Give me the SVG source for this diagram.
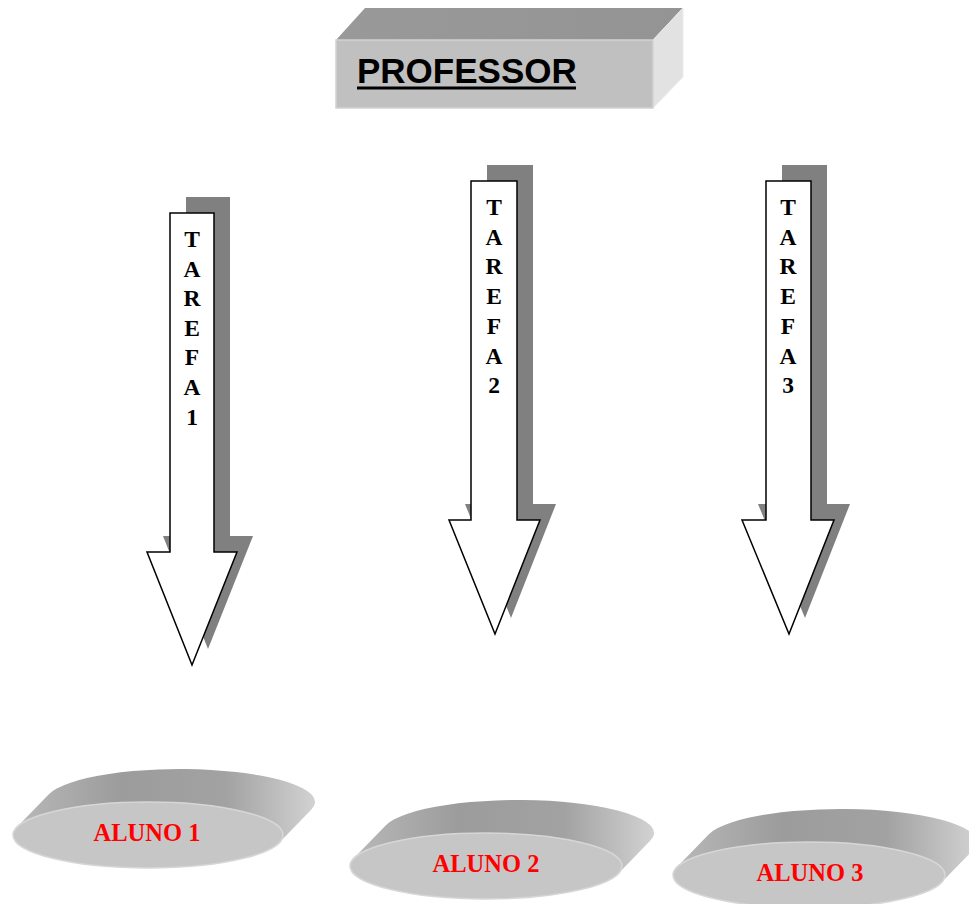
<svg xmlns="http://www.w3.org/2000/svg" width="969" height="904" viewBox="0 0 969 904">
  <style>
    .arrow { fill: #ffffff; stroke: #000000; stroke-width: 1.5; stroke-linejoin: miter; }
    .shadow { fill: #808080; stroke: none; }
    .vlabel { font-family: "Liberation Serif", "Times New Roman", serif; font-weight: bold; font-size: 23.5px; fill: #000000; text-anchor: middle; }
    .aluno { font-family: "Liberation Serif", "Times New Roman", serif; font-weight: bold; font-size: 24.5px; fill: #ff0000; text-anchor: middle; }
    .prof { font-family: "Liberation Sans", Arial, sans-serif; font-weight: bold; font-size: 35px; fill: #000000; }
    .disc-top { fill: url(#discSide); stroke: none; }
    .disc-face { fill: #c6c6c6; stroke: #d6d6d6; stroke-width: 1.5; }
  </style>
  <defs>
    <linearGradient id="discSide" x1="0" y1="0" x2="1" y2="0">
      <stop offset="0" stop-color="#b8b8b8"/>
      <stop offset="0.35" stop-color="#9c9c9c"/>
      <stop offset="0.7" stop-color="#a2a2a2"/>
      <stop offset="1" stop-color="#d2d2d2"/>
    </linearGradient>
    <linearGradient id="boxTop" x1="0" y1="0" x2="1" y2="0">
      <stop offset="0" stop-color="#999999"/>
      <stop offset="1" stop-color="#949494"/>
    </linearGradient>
  </defs>

  <!-- Professor block -->
  <g id="professor">
    <polygon points="336,40 365,8 683,8 653,40" fill="url(#boxTop)"/>
    <polygon points="653,40 683,8 683,77 653,108" fill="#e2e2e2" stroke="#ececec" stroke-width="1"/>
    <rect x="336" y="40" width="317" height="68" fill="#c0c0c0" stroke="#d2d2d2" stroke-width="1.5"/>
    <text class="prof" x="357" y="83">PROFESSOR</text>
    <rect x="357" y="86.5" width="219" height="3" fill="#000000"/>
  </g>

  <!-- Task arrows -->
  <g id="connectors">
    <g id="tarefa1">
      <path class="shadow" d="M186,197 H230 V536 H253 L208,649 L163,536 H186 Z"/>
      <path class="arrow" d="M170,213 H214 V552 H237 L192,665 L147,552 H170 Z"/>
      <text class="vlabel" x="192" y="247">
        <tspan x="192">T</tspan><tspan x="192" dy="29.6">A</tspan><tspan x="192" dy="29.6">R</tspan><tspan x="192" dy="29.6">E</tspan><tspan x="192" dy="29.6">F</tspan><tspan x="192" dy="29.6">A</tspan><tspan x="192" dy="29.6">1</tspan>
      </text>
    </g>
    <g id="tarefa2">
      <path class="shadow" d="M487,165 H533 V504 H556 L511,618 L465,504 H487 Z"/>
      <path class="arrow" d="M471,181 H517 V520 H540 L495,634 L449,520 H471 Z"/>
      <text class="vlabel" x="494" y="215">
        <tspan x="494">T</tspan><tspan x="494" dy="29.7">A</tspan><tspan x="494" dy="29.7">R</tspan><tspan x="494" dy="29.7">E</tspan><tspan x="494" dy="29.7">F</tspan><tspan x="494" dy="29.7">A</tspan><tspan x="494" dy="29.7">2</tspan>
      </text>
    </g>
    <g id="tarefa3">
      <path class="shadow" d="M782,165 H827 V504 H850 L805,618 L758,504 H782 Z"/>
      <path class="arrow" d="M766,181 H811 V520 H834 L789,634 L742,520 H766 Z"/>
      <text class="vlabel" x="788" y="215">
        <tspan x="788">T</tspan><tspan x="788" dy="29.7">A</tspan><tspan x="788" dy="29.7">R</tspan><tspan x="788" dy="29.7">E</tspan><tspan x="788" dy="29.7">F</tspan><tspan x="788" dy="29.7">A</tspan><tspan x="788" dy="29.7">3</tspan>
      </text>
    </g>
  </g>

  <!-- Student discs: extruded side band, then front face -->
  <g id="aluno1">
    <path class="disc-top" d="M16.6,827.4 L48.6,794.4 A135,33 0 0 1 311.4,809.6 L279.4,842.6 A135,33 0 0 0 16.6,827.4 Z"/>
    <ellipse class="disc-face" cx="148" cy="835" rx="135" ry="33"/>
    <text class="aluno" x="147" y="841">ALUNO 1</text>
  </g>
  <g id="aluno2">
    <path class="disc-top" d="M353.6,858.4 L385.6,825.4 A136,33 0 0 1 650.4,840.6 L618.4,873.6 A136,33 0 0 0 353.6,858.4 Z"/>
    <ellipse class="disc-face" cx="486" cy="866" rx="136" ry="33"/>
    <text class="aluno" x="486" y="872">ALUNO 2</text>
  </g>
  <g id="aluno3">
    <path class="disc-top" d="M676.6,867.4 L708.6,834.4 A136,33 0 0 1 973.4,849.6 L941.4,882.6 A136,33 0 0 0 676.6,867.4 Z"/>
    <ellipse class="disc-face" cx="809" cy="875" rx="136" ry="33"/>
    <text class="aluno" x="810" y="881">ALUNO 3</text>
  </g>
</svg>
